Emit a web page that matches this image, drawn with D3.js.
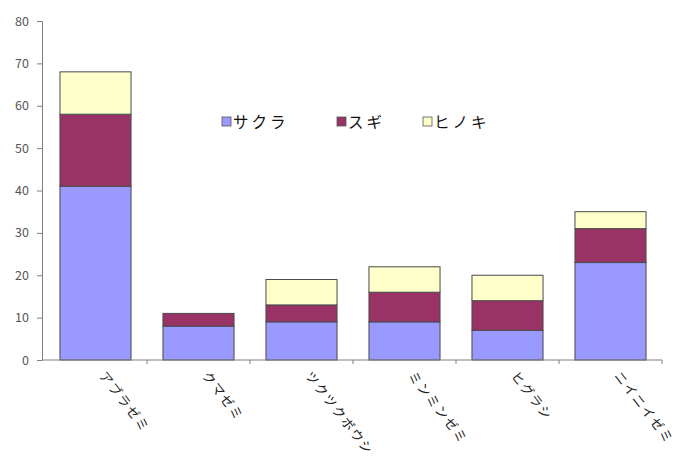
<!DOCTYPE html>
<html>
<head>
<meta charset="utf-8">
<script src="https://cdn.jsdelivr.net/npm/d3@7"></script>
<style>
  html, body { margin: 0; padding: 0; background: #fff; }
  svg { display: block; }
  text { font-family: "Noto Sans CJK JP", "Noto Sans", sans-serif; }
</style>
</head>
<body>
<svg id="chart" width="678" height="463"></svg>
<script>
// Cicada species on the x axis
const categories = ["アブラゼミ", "クマゼミ", "ツクツクボウシ", "ミンミンゼミ", "ヒグラシ", "ニイニイゼミ"];
// Counts per tree species, stacked bottom to top
const seriesNames = ["サクラ", "スギ", "ヒノキ"];
const sakura = [41, 8, 9, 9, 7, 23];
const sugi   = [17, 3, 4, 7, 7, 8];
const hinoki = [10, 0, 6, 6, 6, 4];
const yTicks = [0, 10, 20, 30, 40, 50, 60, 70, 80];

const colors = ["#9999ff", "#993366", "#ffffcc"];

const rows = categories.map((c, i) => ({ cat: c, "サクラ": sakura[i], "スギ": sugi[i], "ヒノキ": hinoki[i] }));
const stacked = d3.stack().keys(seriesNames)(rows);

const svg = d3.select("#chart");
const plot = { left: 44, right: 662, top: 21, bottom: 360 };

const x = d3.scaleBand().domain(categories).range([plot.left, plot.right]).paddingInner(0.31).paddingOuter(0.155);
const y = d3.scaleLinear().domain([0, 80]).range([plot.bottom, plot.top]);

// bars
svg.append("g").selectAll("g").data(stacked).join("g")
  .attr("fill", (d, i) => colors[i])
  .selectAll("rect").data(d => d.filter(s => s[1] - s[0] > 0)).join("rect")
  .attr("x", d => x(d.data.cat))
  .attr("width", x.bandwidth())
  .attr("y", d => y(d[1]))
  .attr("height", d => y(d[0]) - y(d[1]))
  .attr("stroke", "#4a4a4a")
  .attr("stroke-width", 1);

// y axis
const yAxis = svg.append("g").attr("transform", `translate(${plot.left - 2},0)`)
  .call(d3.axisLeft(y).tickValues(yTicks).tickSize(5).tickPadding(8));
yAxis.select(".domain").attr("stroke", "#808080");
yAxis.selectAll(".tick line").attr("stroke", "#808080");
yAxis.selectAll(".tick text").attr("fill", "#555").attr("font-size", 12.5);

// x axis with ticks between categories
const xAxisG = svg.append("g").attr("transform", `translate(0,${plot.bottom})`);
xAxisG.append("line").attr("x1", plot.left - 2).attr("x2", plot.right).attr("stroke", "#808080");
const boundaries = d3.range(categories.length + 1).map(i => plot.left + i * (plot.right - plot.left) / categories.length);
xAxisG.selectAll("line.tk").data(boundaries.slice(1)).join("line").attr("class", "tk")
  .attr("x1", d => d).attr("x2", d => d).attr("y1", 0).attr("y2", 4).attr("stroke", "#808080");

// rotated category labels
xAxisG.selectAll("text").data(categories).join("text")
  .attr("transform", d => `translate(${x(d) + x.bandwidth() / 2 + 3},${16}) rotate(52)`)
  .attr("text-anchor", "start")
  .attr("font-size", 13)
  .attr("letter-spacing", 1.5)
  .attr("fill", "#222")
  .text(d => d);

// legend
const legendX = [222, 337, 423];
const leg = svg.append("g").selectAll("g").data(seriesNames).join("g")
  .attr("transform", (d, i) => `translate(${legendX[i]},122)`);
leg.append("rect").attr("x", 0).attr("y", -5).attr("width", 9).attr("height", 9)
  .attr("fill", (d, i) => colors[i]).attr("stroke", "#555").attr("stroke-width", 0.8);
leg.append("text").attr("x", 11).attr("y", 0).attr("dy", "0.36em")
  .attr("font-size", 15.5).attr("letter-spacing", 3).attr("fill", "#111").text(d => d);
</script>
</body>
</html>
